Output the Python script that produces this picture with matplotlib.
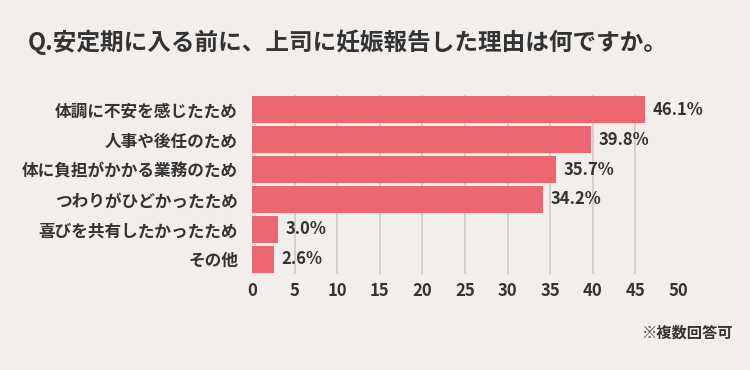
import matplotlib
matplotlib.use("Agg")
import matplotlib.pyplot as plt

plt.rcParams['font.family'] = ['Noto Sans CJK JP', 'DejaVu Sans']

labels = ["体調に不安を感じたため", "人事や後任のため", "体に負担がかかる業務のため",
          "つわりがひどかったため", "喜びを共有したかったため", "その他"]
values = [46.1, 39.8, 35.7, 34.2, 3.0, 2.6]
ticks = [0, 5, 10, 15, 20, 25, 30, 35, 40, 45, 50]

bg = "#f2eeeb"
bar_col = "#ec6670"
txt = "#333333"

fig = plt.figure(figsize=(7.5, 3.7), dpi=100, facecolor=bg)
# axes spans x 252..678 px, y 95..274 px
ax = fig.add_axes([252 / 750, 1 - 274 / 370, 426 / 750, 179 / 370], facecolor=bg)

ypos = list(range(len(labels)))
ax.barh(ypos, values, height=0.9, color=bar_col, zorder=3)
for y, v in zip(ypos, values):
    ax.text(v + 0.9, y, f"{v:.1f}%", va="center", ha="left", fontsize=12,
            fontweight="bold", color=txt, zorder=4)

ax.set_xlim(0, 50)
ax.set_ylim(len(labels) - 0.5, -0.5)
ax.set_yticks(ypos)
ax.set_yticklabels(labels, fontsize=12, fontweight="bold", color=txt)
ax.set_xticks(ticks)
ax.set_xticklabels([str(t) for t in ticks], fontsize=12, fontweight="bold", color=txt)
ax.tick_params(axis="y", length=0, pad=10)
ax.tick_params(axis="x", length=0, pad=6)
ax.grid(axis="x", color="#cccccc", linewidth=1.2, zorder=0)
ax.get_xgridlines()[-1].set_visible(False)  # no line at 50
for s in ax.spines.values():
    s.set_visible(False)

fig.text(28 / 750, 1 - 42 / 370, "Q.安定期に入る前に、上司に妊娠報告した理由は何ですか。",
         fontsize=17, fontweight="bold", color=txt, va="center", ha="left")
fig.text(733 / 750, 1 - 333 / 370, "※複数回答可", fontsize=11, fontweight="bold",
         color=txt, va="center", ha="right")

fig.savefig("out.png", dpi=100, facecolor=bg)
